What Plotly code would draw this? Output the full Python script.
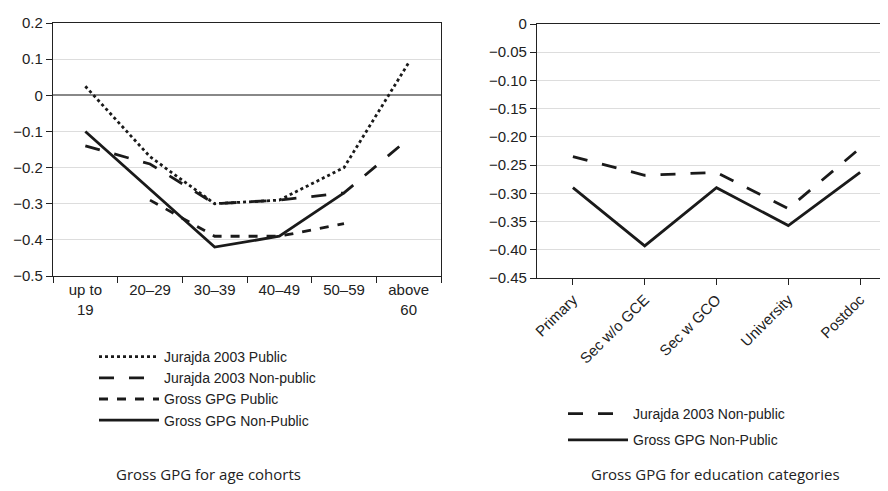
import plotly.graph_objects as go

age_cats = ["up to<br>19", "20–29", "30–39", "40–49", "50–59", "above<br>60"]
jur_pub = [0.025, -0.17, -0.30, -0.29, -0.20, 0.09]
jur_nonpub = [-0.14, -0.19, -0.30, -0.29, -0.27, -0.12]
gross_pub = [None, -0.29, -0.39, -0.39, -0.355, None]
gross_nonpub = [-0.10, -0.26, -0.42, -0.39, -0.27, None]

edu_cats = ["Primary", "Sec w/o GCE", "Sec w GCO", "University", "Postdoc"]
edu_jur = [-0.235, -0.268, -0.263, -0.327, -0.22]
edu_gross = [-0.29, -0.393, -0.29, -0.357, -0.263]

fig = go.Figure()
lw = 2.8
def add(x, y, name, dash, xa, ya, leg, grp):
    fig.add_trace(go.Scatter(x=x, y=y, name=name, mode="lines",
                             line=dict(color="#1a1a1a", width=lw, dash=dash),
                             xaxis=xa, yaxis=ya, legend=leg, legendgroup=grp,
                             connectgaps=False))

add(age_cats, jur_pub, "Jurajda 2003 Public", "dot", "x", "y", "legend", "a")
add(age_cats, jur_nonpub, "Jurajda 2003 Non-public", "longdash", "x", "y", "legend", "a")
add(age_cats, gross_pub, "Gross GPG Public", "dash", "x", "y", "legend", "a")
add(age_cats, gross_nonpub, "Gross GPG Non-Public", "solid", "x", "y", "legend", "a")
add(edu_cats, edu_jur, "Jurajda 2003 Non-public", "longdash", "x2", "y2", "legend2", "b1")
add(edu_cats, edu_gross, "Gross GPG Non-Public", "solid", "x2", "y2", "legend2", "b2")

W, H, O = 888, 491, 8
def px(v): return (v - O) / W
def py(v): return 1 - (v - O) / H

tf = dict(family="Liberation Sans, Arial", size=15, color="#222")
lf = dict(family="Liberation Sans, Arial", size=14, color="#222")
ax_common = dict(showline=True, linecolor="#222", linewidth=1.2, mirror=True, automargin=False,
                 ticks="outside", tickcolor="#222", ticklen=6, tickfont=tf)
fig.update_layout(
    width=W, height=H, margin=dict(l=0, r=0, t=0, b=0, pad=0),
    plot_bgcolor="white", paper_bgcolor="white",
    xaxis=dict(domain=[px(53), px(441)], anchor="y", tickson="boundaries", range=[-0.5, 5.5],
               showgrid=False, **ax_common),
    yaxis=dict(domain=[py(276), py(23)], anchor="x", range=[-0.5, 0.2], dtick=0.1,
               showgrid=True, gridcolor="#dddddd", zeroline=True, zerolinecolor="#888",
               zerolinewidth=1.5, **ax_common),
    xaxis2=dict(domain=[px(537), 1.0], anchor="y2", showgrid=False, tickangle=-45,
                range=[-0.5, 4.5], **ax_common),
    yaxis2=dict(domain=[py(278), py(24)], anchor="x2", range=[-0.45, 0],
                tickvals=[0, -0.05, -0.1, -0.15, -0.2, -0.25, -0.3, -0.35, -0.4, -0.45],
                ticktext=["0", "−0.05", "−0.10", "−0.15", "−0.20", "−0.25", "−0.30",
                          "−0.35", "−0.40", "−0.45"],
                showgrid=True, gridcolor="#dddddd", zeroline=False, **ax_common),
    legend=dict(x=px(94), y=py(341), xanchor="left", yanchor="top", font=lf,
                itemwidth=60, tracegroupgap=0, bgcolor="rgba(0,0,0,0)"),
    legend2=dict(x=px(563), y=py(398), xanchor="left", yanchor="top", font=lf,
                 itemwidth=60, tracegroupgap=5, bgcolor="rgba(0,0,0,0)"),
    annotations=[
        dict(text="Gross GPG for age cohorts", x=px(208), y=py(474), xref="paper", yref="paper",
             showarrow=False, xanchor="center", yanchor="middle",
             font=dict(family="Open Sans", size=15, color="#222")),
        dict(text="Gross GPG for education categories", x=px(715), y=py(474), xref="paper",
             yref="paper", showarrow=False, xanchor="center", yanchor="middle",
             font=dict(family="Open Sans", size=15, color="#222")),
    ],
)
fig.write_html("out.html")
